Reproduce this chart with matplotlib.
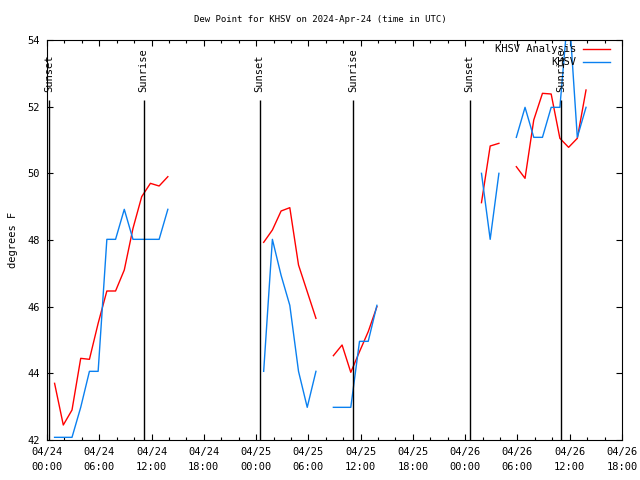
import numpy as np
import matplotlib
matplotlib.use("Agg")
import matplotlib.pyplot as plt
from matplotlib.ticker import MultipleLocator

nan = np.nan
# hours since 2024-04-24 00:00 UTC (hourly reports at ~:52)
hours = np.arange(62) + 0.87

analysis = [43.70, 42.45, 42.90, 44.45, 44.42, 45.50, 46.47, 46.47, 47.10, 48.35,
            49.30, 49.70, 49.62, 49.90, nan, nan, nan, nan, nan, nan,
            nan, nan, nan, nan, 47.93, 48.30, 48.87, 48.97, 47.25, 46.45,
            45.65, nan, 44.53, 44.85, 44.03, 44.65, 45.25, 46.00, nan, nan,
            nan, nan, nan, nan, nan, nan, nan, nan, nan, 49.12,
            50.82, 50.90, nan, 50.20, 49.85, 51.60, 52.40, 52.38, 51.05, 50.78,
            51.05, 52.50]

observed = [42.08, 42.08, 42.08, 42.98, 44.06, 44.06, 48.02, 48.02, 48.92, 48.02,
            48.02, 48.02, 48.02, 48.92, nan, nan, nan, nan, nan, nan,
            nan, nan, nan, nan, 44.06, 48.02, 46.94, 46.04, 44.06, 42.98,
            44.06, nan, 42.98, 42.98, 42.98, 44.96, 44.96, 46.04, nan, nan,
            nan, nan, nan, nan, nan, nan, nan, nan, nan, 50.00,
            48.02, 50.00, nan, 51.08, 51.98, 51.08, 51.08, 51.98, 51.98, 55.04,
            51.08, 51.98]

sun_times = [0.25, 11.1, 24.4, 35.1, 48.5, 59.05]
sun_labels = ["Sunset", "Sunrise", "Sunset", "Sunrise", "Sunset", "Sunrise"]

xtick_pos = [0, 6, 12, 18, 24, 30, 36, 42, 48, 54, 60, 66]
xtick_labels = ["04/24\n00:00", "04/24\n06:00", "04/24\n12:00", "04/24\n18:00",
                "04/25\n00:00", "04/25\n06:00", "04/25\n12:00", "04/25\n18:00",
                "04/26\n00:00", "04/26\n06:00", "04/26\n12:00", "04/26\n18:00"]
yticks = [42, 44, 46, 48, 50, 52, 54]

FONT = "DejaVu Sans Mono"
plt.rcParams['font.family'] = FONT

fig = plt.figure(figsize=(6.4, 4.8), dpi=100)
ax = fig.add_axes([47/640, 40/480, 575/640, 400/480])

red = "#ff0000"
blue = "#0a80f0"
ax.plot(hours, analysis, color=red, lw=1.0)
ax.plot(hours, observed, color=blue, lw=1.0)

ax.vlines(sun_times, 42, 52.2, color="black", lw=1.0)
for t, lab in zip(sun_times, sun_labels):
    ax.text(t, 52.44, lab, rotation=90, ha="center", va="bottom", fontsize=7.5)

ax.set_xlim(0, 66)
ax.set_ylim(42, 54)
ax.set_xticks(xtick_pos)
ax.set_xticklabels(xtick_labels, fontsize=7.5, linespacing=1.6)
ax.xaxis.set_minor_locator(MultipleLocator(2))
ax.set_yticks(yticks)
ax.set_yticklabels([str(v) for v in yticks], fontsize=7.5)
ax.tick_params(which="both", direction="in", top=True, right=True, width=0.8)
ax.tick_params(which="major", length=4.5, pad=5)
ax.tick_params(which="minor", length=2.5)
ax.set_ylabel("degrees F", fontsize=7.5, labelpad=7)
for s in ax.spines.values():
    s.set_linewidth(0.8)

fig.text(0.5, 1 - 19/480, "Dew Point for KHSV on 2024-Apr-24 (time in UTC)",
         ha="center", va="center", fontsize=6.5)

# legend (gnuplot style: right-justified text, line sample)
ax.text(0.921, 0.977, "KHSV Analysis", transform=ax.transAxes, ha="right",
        va="center", fontsize=7.5)
ax.plot([0.933, 0.979], [0.977, 0.977], transform=ax.transAxes, color=red,
        lw=1.0, clip_on=False)
ax.text(0.921, 0.946, "KHSV", transform=ax.transAxes, ha="right",
        va="center", fontsize=7.5)
ax.plot([0.933, 0.979], [0.946, 0.946], transform=ax.transAxes, color=blue,
        lw=1.0, clip_on=False)

fig.savefig("out.png", dpi=100)
